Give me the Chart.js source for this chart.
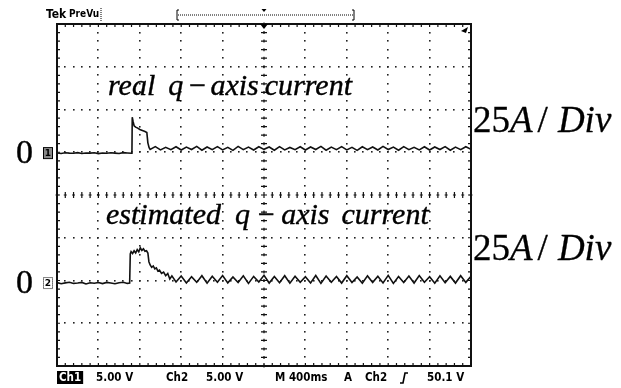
<!DOCTYPE html>
<html>
<head>
<meta charset="utf-8">
<script src="https://cdn.jsdelivr.net/npm/chart.js@4.4.1/dist/chart.umd.min.js"></script>
<style>
  html, body { margin: 0; padding: 0; background: #fff; }
  #wrap { width: 621px; height: 388px; }
</style>
</head>
<body>
<div id="wrap"><canvas id="scope" width="621" height="388"></canvas></div>
<script>
// Scope settings: 10 x 400 ms horizontally, 8 divisions vertically, 25 A per division
const MS_PER_DIV = 400;
const AMPS_PER_DIV = 25;
const CH1_ZERO_DIV = 0.98;   // channel 1 ground marker, divisions above centre
const CH2_ZERO_DIV = -2.06;  // channel 2 ground marker

// real q-axis current (channel 1)
const ch1Time = [0,40,80,120,160,200,240,280,320,360,400,440,480,520,560,600,640,680,720,
  724,727,735,745,760,780,800,825,850,868,878,890,900,
  950,1000,1050,1100,1150,1200,1250,1300,1350,1400,1450,1500,1550,1600,1650,1700,1750,1800,1850,1900,
  1950,2000,2050,2100,2150,2200,2250,2300,2350,2400,2450,2500,2550,2600,2650,2700,2750,2800,2850,2900,
  2950,3000,3050,3100,3150,3200,3250,3300,3350,3400,3450,3500,3550,3600,3650,3700,3750,3800,3850,3900,
  3950,4000];
const ch1Amps = [0.1,-0.2,0.2,0.0,-0.1,0.3,-0.2,0.1,0.0,0.2,-0.3,0.1,-0.1,0.2,0.0,-0.2,0.3,0.1,-0.1,
  0.3,21.0,18.5,16.0,15.2,14.6,13.8,13.2,12.6,12.0,6.0,3.2,2.2,
  3.8,1.9,3.4,2.0,3.7,1.8,3.5,2.1,3.9,1.7,
  3.6,2.0,3.8,1.9,3.4,1.6,3.9,2.0,3.5,1.8,
  3.7,2.2,3.6,1.7,3.8,1.9,3.3,2.0,3.7,1.8,
  3.6,2.1,3.9,1.7,3.5,2.0,3.8,1.9,3.4,1.6,
  3.7,2.0,3.6,1.8,3.9,2.1,3.5,1.7,3.8,2.0,
  3.4,1.9,3.7,1.8,3.6,2.1,3.8,1.7,3.5,2.0,
  3.7,2.2];

// estimated q-axis current (channel 2)
const ch2Time = [0,40,80,120,160,200,240,280,320,360,400,440,480,520,560,600,640,680,
  702,708,716,730,745,760,775,790,805,820,835,850,865,878,888,900,915,930,945,960,975,990,
  1010,1030,1050,1070,1090,1110,1150,
  1200,1250,1300,1350,1400,1450,1500,1550,1600,1650,1700,1750,1800,1850,1900,1950,2000,2050,2100,2150,
  2200,2250,2300,2350,2400,2450,2500,2550,2600,2650,2700,2750,2800,2850,2900,2950,3000,3050,3100,3150,
  3200,3250,3300,3350,3400,3450,3500,3550,3600,3650,3700,3750,3800,3850,3900,3950,4000];
const ch2Amps = [0.3,-0.4,0.1,0.5,-0.2,0.0,0.4,-0.5,0.2,-0.1,0.3,-0.3,0.4,0.0,-0.4,0.2,0.5,-0.2,
  0.0,17.0,18.4,17.3,18.9,17.6,19.6,18.3,20.6,19.1,20.0,18.6,18.9,17.6,12.5,10.6,9.2,10.0,8.3,8.9,7.0,7.6,
  5.6,6.4,4.3,5.6,2.4,4.2,0.6,
  4.1,0.0,3.7,0.4,4.3,-0.1,4.0,0.5,4.4,0.1,
  3.6,0.3,4.2,-0.2,3.9,0.6,4.5,0.0,3.8,0.2,
  4.3,-0.1,4.0,0.4,3.7,0.1,4.4,-0.2,4.1,0.5,
  3.9,0.0,4.3,0.3,3.6,-0.1,4.2,0.4,4.0,0.1,
  4.5,-0.2,3.8,0.3,4.1,0.0,4.4,0.5,3.7,-0.1,
  4.2,0.2,3.9,0.0,4.3,0.4,4.0];

const ch1Words = ['real', 'q', '\u2212', 'axis', 'current'];
const ch2Words = ['estimated', 'q', '\u2212', 'axis', 'current'];
const statusItems = ['Ch1', '5.00 V', 'Ch2', '5.00 V', 'M 400ms', 'A', 'Ch2', '50.1 V'];

function toPoints(times, amps, zeroDiv) {
    return times.map((t, k) => ({ x: t, y: zeroDiv + amps[k] / AMPS_PER_DIV }));
}

// graticule: dotted division lines, ticked centre cross and ticked frame
const graticule = {
    id: 'graticule',
    beforeDraw(chart) {
        const ctx = chart.ctx;
        ctx.save();
        ctx.fillStyle = '#fff';
        ctx.fillRect(0, 0, chart.width, chart.height);
        ctx.restore();
    },
    beforeDatasetsDraw(chart) {
        const ctx = chart.ctx;
        const xs = chart.scales.x, ys = chart.scales.y;
        const px = v => xs.getPixelForValue(v);
        const py = v => ys.getPixelForValue(v);
        ctx.save();
        ctx.fillStyle = '#222';
        // dots every fifth of a division along each division line
        for (let d = 1; d < 10; d++) {
            if (d === 5) continue;
            const x = px(d * MS_PER_DIV);
            for (let s = 0; s <= 40; s++) {
                ctx.fillRect(Math.round(x) - 1, Math.round(py(-4 + s * 0.2)) - 1, 1.6, 1.6);
            }
        }
        for (let d = -3; d <= 3; d++) {
            if (d === 0) continue;
            const y = py(d);
            for (let s = 0; s <= 50; s++) {
                ctx.fillRect(Math.round(px(s * MS_PER_DIV / 5)) - 1, Math.round(y) - 1, 1.6, 1.6);
            }
        }
        // centre cross with minor ticks
        const cx = px(5 * MS_PER_DIV), cy = py(0);
        ctx.strokeStyle = '#111';
        ctx.lineWidth = 1.2;
        ctx.beginPath();
        for (let s = 0; s <= 50; s++) {
            const x = px(s * MS_PER_DIV / 5);
            ctx.moveTo(x, cy - 3); ctx.lineTo(x, cy + 3);
            ctx.moveTo(x - 1.5, cy); ctx.lineTo(x + 1.5, cy);
        }
        for (let s = 0; s <= 40; s++) {
            const y = py(-4 + s * 0.2);
            ctx.moveTo(cx - 3, y); ctx.lineTo(cx + 3, y);
            ctx.moveTo(cx, y - 1.5); ctx.lineTo(cx, y + 1.5);
        }
        ctx.stroke();
        // frame with inward ticks
        const a = chart.chartArea;
        ctx.lineWidth = 2;
        ctx.strokeRect(a.left, a.top, a.right - a.left, a.bottom - a.top);
        ctx.lineWidth = 1.2;
        ctx.beginPath();
        for (let s = 0; s <= 50; s++) {
            const x = px(s * MS_PER_DIV / 5);
            ctx.moveTo(x, a.top); ctx.lineTo(x, a.top + 3);
            ctx.moveTo(x, a.bottom); ctx.lineTo(x, a.bottom - 3);
        }
        for (let s = 0; s <= 40; s++) {
            const y = py(-4 + s * 0.2);
            ctx.moveTo(a.left, y); ctx.lineTo(a.left + 3, y);
            ctx.moveTo(a.right, y); ctx.lineTo(a.right - 3, y);
        }
        ctx.stroke();
        ctx.restore();
    }
};

// draws a row of words with the given gaps, slightly thickened like print
function drawWords(ctx, words, gaps, x, y) {
    words.forEach((w, k) => {
        ctx.fillText(w, x, y);
        ctx.strokeText(w, x, y);
        x += ctx.measureText(w).width + (gaps[k] || 0);
    });
}

// annotations around the screen: header, channel markers, labels, status line
const scopeText = {
    id: 'scopeText',
    afterDraw(chart) {
        const ctx = chart.ctx;
        const xs = chart.scales.x, ys = chart.scales.y;
        const a = chart.chartArea;
        const cx = xs.getPixelForValue(5 * MS_PER_DIV);
        ctx.save();
        ctx.fillStyle = '#000';
        ctx.strokeStyle = '#000';

        // header
        ctx.textBaseline = 'alphabetic';
        ctx.font = 'bold 12px "DejaVu Sans Condensed", "DejaVu Sans", sans-serif';
        ctx.fillText('Tek', 46, 18);
        ctx.font = 'bold 10px "DejaVu Sans Condensed", "DejaVu Sans", sans-serif';
        ctx.fillText('PreVu', 69, 17);
        ctx.lineWidth = 1;
        ctx.setLineDash([1, 1]);
        ctx.beginPath();
        ctx.moveTo(178, 15); ctx.lineTo(354, 15);
        ctx.moveTo(101, 8); ctx.lineTo(101, 21);
        ctx.stroke();
        ctx.setLineDash([]);
        ctx.beginPath();
        ctx.moveTo(179, 10); ctx.lineTo(177, 10); ctx.lineTo(177, 20); ctx.lineTo(179, 20);
        ctx.moveTo(352, 10); ctx.lineTo(354, 10); ctx.lineTo(354, 20); ctx.lineTo(352, 20);
        ctx.stroke();
        ctx.beginPath();
        ctx.moveTo(cx - 2.5, 9); ctx.lineTo(cx + 2.5, 9); ctx.lineTo(cx, 12); ctx.closePath();
        ctx.fill();
        // trigger position and level markers
        ctx.beginPath();
        ctx.moveTo(cx - 4, a.top); ctx.lineTo(cx + 4, a.top); ctx.lineTo(cx, a.top + 5); ctx.closePath();
        ctx.fill();
        ctx.beginPath();
        ctx.moveTo(a.right - 3, a.top + 3); ctx.lineTo(a.right - 10, a.top + 7); ctx.lineTo(a.right - 5, a.top + 9); ctx.closePath();
        ctx.fill();

        // ground markers for both channels
        [[CH1_ZERO_DIV, '1', true], [CH2_ZERO_DIV, '2', false]].forEach(([zero, num, filled]) => {
            const y = ys.getPixelForValue(zero);
            ctx.font = '34px "Liberation Serif", serif';
            ctx.textAlign = 'right';
            ctx.textBaseline = 'middle';
            ctx.lineWidth = 0.4;
            ctx.fillText('0', 33, y + 1);
            ctx.strokeText('0', 33, y + 1);
            ctx.lineWidth = 1;
            if (filled) {
                ctx.fillStyle = '#888';
                ctx.fillRect(43, y - 5, 9, 10);
                ctx.fillStyle = '#000';
            }
            ctx.setLineDash(filled ? [] : [1, 1]);
            ctx.strokeRect(43.5, y - 5.5, 9, 11);
            ctx.setLineDash([]);
            ctx.font = 'bold 9px "DejaVu Sans", sans-serif';
            ctx.textAlign = 'center';
            ctx.fillText(num, 48, y + 0.5);
        });

        // trace labels
        ctx.textAlign = 'left';
        ctx.textBaseline = 'alphabetic';
        ctx.lineWidth = 0.4;
        ctx.font = 'italic 30px "Liberation Serif", serif';
        drawWords(ctx, ch1Words, [13, 4, 3, 6], 108, 95);
        drawWords(ctx, ch2Words, [14, 6, 5, 12], 106, 224);

        // vertical scale labels
        ctx.lineWidth = 0.3;
        [132, 260].forEach(base => {
            const upright = '37px "Liberation Serif", serif';
            const slanted = 'italic 37px "Liberation Serif", serif';
            let x = 473;
            ctx.font = upright;
            drawWords(ctx, ['25'], [], x, base); x += ctx.measureText('25').width;
            ctx.font = slanted;
            drawWords(ctx, ['A'], [], x, base); x += ctx.measureText('A').width + 5;
            ctx.font = upright;
            drawWords(ctx, ['/'], [], x, base); x += ctx.measureText('/').width + 10;
            ctx.font = slanted;
            drawWords(ctx, ['Div'], [], x, base);
        });

        // status line
        const statusX = [59, 96, 166, 206, 275, 344, 365, 427];
        ctx.font = 'bold 11.5px "DejaVu Sans Condensed", "DejaVu Sans", sans-serif';
        ctx.textBaseline = 'middle';
        statusItems.forEach((txt, k) => {
            if (k === 0) {
                const w = ctx.measureText(txt).width;
                ctx.fillRect(statusX[k] - 2, 371, w + 4, 13);
                ctx.fillStyle = '#fff';
                ctx.fillText(txt, statusX[k], 378);
                ctx.fillStyle = '#000';
            } else {
                ctx.fillText(txt, statusX[k], 378);
            }
        });
        // trigger slope symbol
        ctx.lineWidth = 1.6;
        ctx.beginPath();
        ctx.moveTo(400, 383); ctx.lineTo(403, 383); ctx.lineTo(405, 373); ctx.lineTo(408, 373);
        ctx.stroke();
        ctx.restore();
    }
};

new Chart(document.getElementById('scope'), {
    type: 'scatter',
    data: {
        datasets: [{
            label: 'real q-axis current',
            data: toPoints(ch1Time, ch1Amps, CH1_ZERO_DIV),
            showLine: true,
            borderColor: '#111',
            borderWidth: 1.6,
            pointRadius: 0,
            tension: 0
        }, {
            label: 'estimated q-axis current',
            data: toPoints(ch2Time, ch2Amps, CH2_ZERO_DIV),
            showLine: true,
            borderColor: '#111',
            borderWidth: 1.6,
            pointRadius: 0,
            tension: 0
        }]
    },
    options: {
        responsive: false,
        devicePixelRatio: 1,
        animation: false,
        layout: { padding: { left: 57, right: 150, top: 24, bottom: 22 } },
        plugins: { legend: { display: false }, tooltip: { enabled: false } },
        scales: {
            x: { type: 'linear', min: 0, max: 10 * MS_PER_DIV, display: false },
            y: { type: 'linear', min: -4, max: 4, display: false }
        }
    },
    plugins: [graticule, scopeText]
});
</script>
</body>
</html>
